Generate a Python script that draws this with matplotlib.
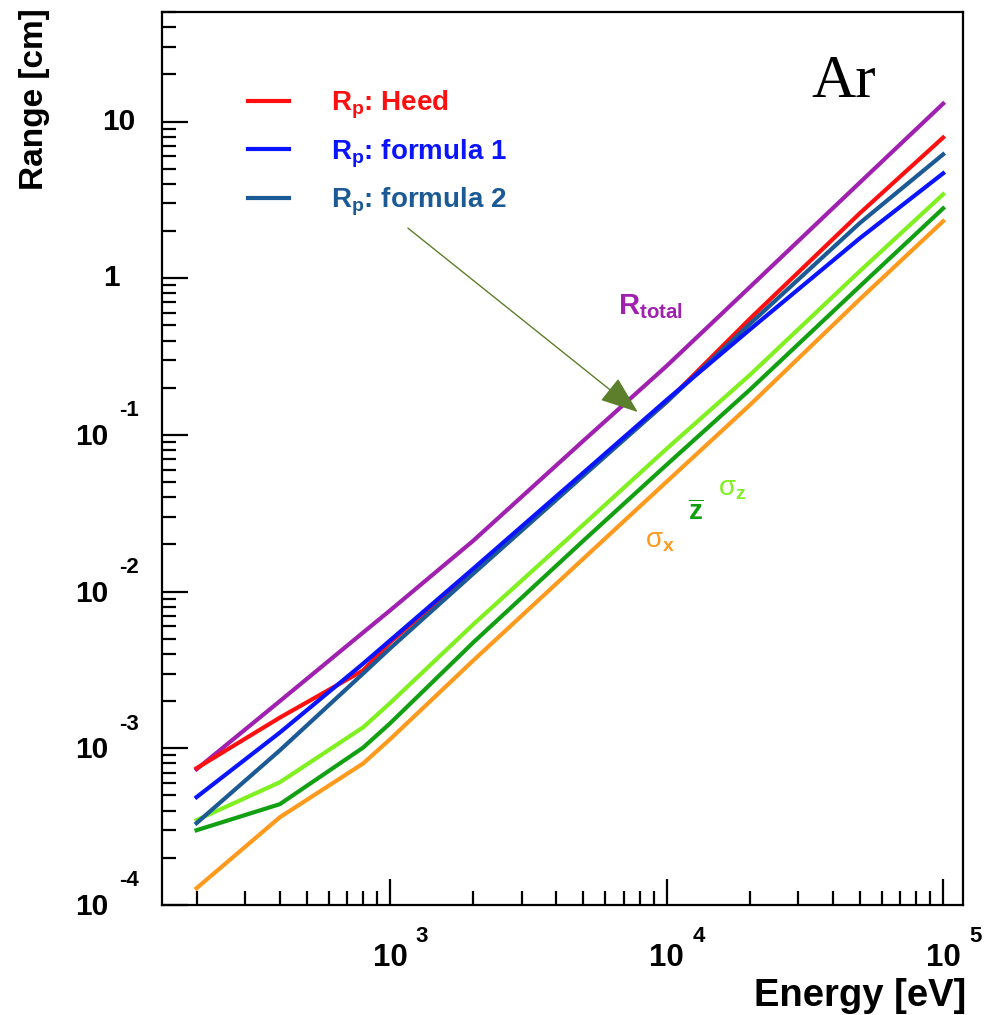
import matplotlib
matplotlib.use("Agg")
import matplotlib.pyplot as plt
from matplotlib.ticker import LogLocator, NullFormatter
from matplotlib.transforms import blended_transform_factory, offset_copy
from matplotlib.lines import Line2D

plt.rcParams['font.family'] = ['Liberation Sans', 'DejaVu Sans']
plt.rcParams['font.weight'] = 'bold'
plt.rcParams['mathtext.fontset'] = 'custom'
plt.rcParams['mathtext.rm'] = 'Liberation Sans:bold'
plt.rcParams['mathtext.it'] = 'Liberation Sans:bold'
plt.rcParams['mathtext.bf'] = 'Liberation Sans:bold'

# data (energy in eV, range in cm)
energy = [200, 400, 800, 1000, 2000, 5000, 1e4, 2e4, 5e4, 1e5]
r_total = [7.35e-4, 2.0e-3, 5.48e-3, 7.57e-3, 2.11e-2, 9.16e-2, 0.275, 0.877, 4.08, 13.0]
rp_heed = [7.46e-4, 1.57e-3, 3.14e-3, 4.73e-3, 1.36e-2, 5.65e-2, 0.162, 0.55, 2.6, 7.9]
rp_form1 = [4.88e-4, 1.26e-3, 3.47e-3, 4.87e-3, 1.40e-2, 5.73e-2, 0.167, 0.47, 1.8, 4.67]
rp_form2 = [3.33e-4, 9.7e-4, 3.0e-3, 4.33e-3, 1.30e-2, 5.48e-2, 0.162, 0.51, 2.25, 6.17]
sigma_z = [3.48e-4, 6.07e-4, 1.36e-3, 1.94e-3, 6.17e-3, 2.67e-2, 8.15e-2, 0.241, 1.11, 3.43]
z_mean = [3.0e-4, 4.4e-4, 1.01e-3, 1.44e-3, 4.73e-3, 2.11e-2, 6.44e-2, 0.194, 0.889, 2.79]
sigma_x = [1.28e-4, 3.63e-4, 8.0e-4, 1.14e-3, 3.63e-3, 1.62e-2, 5.02e-2, 0.155, 0.735, 2.31]

legend_labels = [r'R$_{\rm p}$: Heed', r'R$_{\rm p}$: formula 1', r'R$_{\rm p}$: formula 2']
xtick_vals = [1e3, 1e4, 1e5]
xtick_exp = ['3', '4', '5']
ytick_vals = [1e-4, 1e-3, 1e-2, 1e-1, 1, 10]
ytick_exp = ['-4', '-3', '-2', '-1', None, None]

c_total = '#a020b0'
c_heed = '#ff1010'
c_f1 = '#0a14ff'
c_f2 = '#1c5a96'
c_sz = '#80f020'
c_z = '#12a012'
c_sx = '#ff9a1e'

fig = plt.figure(figsize=(9.91, 10.15), dpi=100)
ax = fig.add_axes([162/991, 1-905/1015, (963-162)/991, (905-12)/1015])
ax.set_xscale('log')
ax.set_yscale('log')
ax.set_xlim(150, 1.18e5)
ax.set_ylim(1e-4, 50)

lw = 3.0
ax.plot(energy, r_total, color=c_total, lw=lw)
ax.plot(energy, sigma_x, color=c_sx, lw=lw)
ax.plot(energy, z_mean, color=c_z, lw=lw)
ax.plot(energy, sigma_z, color=c_sz, lw=lw)
ax.plot(energy, rp_heed, color=c_heed, lw=lw)
ax.plot(energy, rp_form2, color=c_f2, lw=lw)
ax.plot(energy, rp_form1, color=c_f1, lw=lw)

# ticks: ROOT style, inside, only left and bottom
ax.xaxis.set_major_locator(LogLocator(base=10))
ax.xaxis.set_minor_locator(LogLocator(base=10, subs=range(2, 10)))
ax.yaxis.set_major_locator(LogLocator(base=10))
ax.yaxis.set_minor_locator(LogLocator(base=10, subs=range(2, 10), numticks=20))
ax.xaxis.set_major_formatter(NullFormatter())
ax.xaxis.set_minor_formatter(NullFormatter())
ax.yaxis.set_major_formatter(NullFormatter())
ax.yaxis.set_minor_formatter(NullFormatter())
ax.tick_params(which='major', direction='in', length=19, width=1.6)
ax.tick_params(which='minor', direction='in', length=10, width=1.6)
for s in ax.spines.values():
    s.set_linewidth(1.6)

# tick labels drawn by hand so the exponent hangs to the right like ROOT
tx = blended_transform_factory(ax.transData, ax.transAxes)
for v, e in zip(xtick_vals, xtick_exp):
    ax.text(v, 0, '10', fontsize=22.5, ha='center', va='center',
            transform=offset_copy(tx, fig, x=0, y=-53, units='dots'), clip_on=False)
    ax.text(v, 0, e, fontsize=16, ha='left', va='center',
            transform=offset_copy(tx, fig, x=26, y=-31, units='dots'), clip_on=False)

ty = blended_transform_factory(ax.transAxes, ax.transData)
for v, e in zip(ytick_vals, ytick_exp):
    if e is None:
        dx = -42 if v == 1 else -27
        ax.text(0, v, '%g' % v, fontsize=21.5, ha='right', va='center',
                transform=offset_copy(ty, fig, x=dx, y=0, units='dots'), clip_on=False)
    else:
        ax.text(0, v, '10', fontsize=21.5, ha='right', va='center',
                transform=offset_copy(ty, fig, x=-54, y=-2, units='dots'), clip_on=False)
        ax.text(0, v, e, fontsize=16, ha='left', va='center',
                transform=offset_copy(ty, fig, x=-43, y=24, units='dots'), clip_on=False)

fig.text(35/991, 1-8/1015, 'Range [cm]', fontsize=24, rotation=90, ha='center', va='top')
fig.text(966/991, 1-1006/1015, 'Energy [eV]', fontsize=27.5, ha='right', va='baseline')

# legend
handles = [Line2D([], [], color=c, lw=3) for c in (c_heed, c_f1, c_f2)]
leg = ax.legend(handles, legend_labels, loc='upper left', bbox_to_anchor=(0.107, 0.914),
                frameon=False, fontsize=20, borderpad=0, borderaxespad=0,
                handlelength=1.5, handletextpad=1.5, labelspacing=0.58)
for t, c in zip(leg.get_texts(), (c_heed, c_f1, c_f2)):
    t.set_color(c)

ax.text(0.811, 0.905, 'Ar', fontsize=44, family='Liberation Serif', fontweight='normal',
        transform=ax.transAxes, va='baseline')
ax.text(0.569, 0.662, r'R$_{\rm total}$', fontsize=21, color=c_total, transform=ax.transAxes,
        va='baseline')
ax.text(0.694, 0.459, r'σ$_{\rm z}$', fontsize=20, color=c_sz, transform=ax.transAxes,
        va='baseline', fontweight='normal')
ax.text(0.657, 0.431, r'$\overline{\rm z}$', fontsize=20, color=c_z, transform=ax.transAxes,
        va='baseline')
ax.text(0.603, 0.400, r'σ$_{\rm x}$', fontsize=20, color=c_sx, transform=ax.transAxes,
        va='baseline', fontweight='normal')

ax.annotate('', xy=(0.594, 0.552), xytext=(0.307, 0.758), xycoords='axes fraction',
            textcoords='axes fraction',
            arrowprops=dict(arrowstyle='-|>,head_length=0.8,head_width=0.3', color='#5b7f2a',
                            lw=1.0, mutation_scale=30, shrinkA=0, shrinkB=0))

fig.savefig('out.png', dpi=100)
